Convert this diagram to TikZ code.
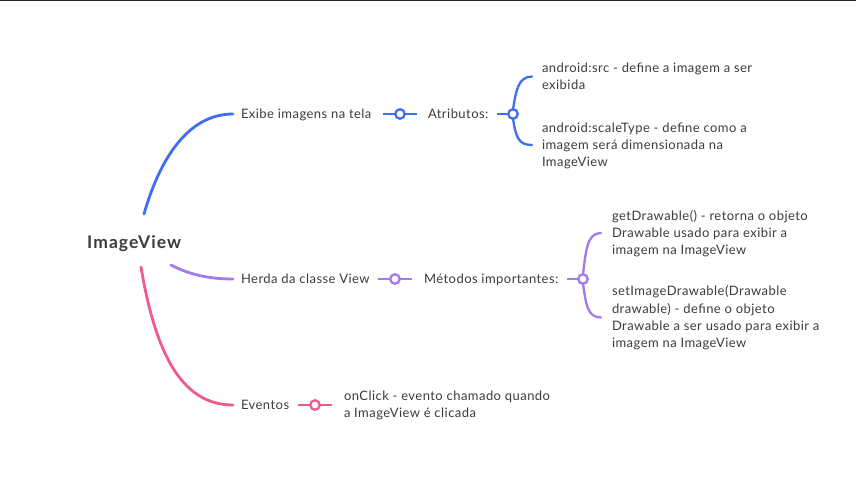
\documentclass[tikz,border=0pt]{standalone}
\usepackage{fontspec}
\setmainfont{Lato}
\newfontfamily\txtfont[LetterSpace=3.5]{Lato}
\newfontfamily\rootfont[LetterSpace=6]{Lato Bold}
\definecolor{cblue}{HTML}{3F6DF5}
\definecolor{cpurp}{HTML}{A07AEE}
\definecolor{cpink}{HTML}{EF5A8F}
\definecolor{ctext}{HTML}{3C3C3C}
\newcommand\ms{\rule[-4.35pt]{0pt}{17.3pt}}
\begin{document}
\begin{tikzpicture}[x=1pt,y=-1pt,
  txt/.style={anchor=west,inner sep=0pt,outer sep=0pt,align=left,text=ctext,
    font=\txtfont\fontsize{13}{17.3}\selectfont},
  dot/.style={circle,draw=#1,fill=white,line width=2.3pt,minimum size=9.5pt,inner sep=0pt,outer sep=0pt},
  main/.style={line width=2.8pt,line cap=round},
  lnk/.style={line width=2.3pt}]
\useasboundingbox (0,0) rectangle (856,495);
\fill[white] (0,0) rectangle (856,495);
\fill[black!85] (0,0) rectangle (856,1.5);
% root
\node[anchor=west,inner sep=0pt,text=ctext,font=\rootfont\fontsize{17.5}{20}\selectfont] (root) at (87,242) {\rule[-6.5pt]{0pt}{25pt}ImageView};
\coordinate (r1) at (144,214);
\coordinate (r2) at (171,265);
\coordinate (r3) at (141,267);
% texts
\node[txt] (t1) at (241,114) {\ms Exibe imagens na tela};
\node[txt] (a1) at (428,114) {\ms Atributos:};
\node[txt] (s1) at (542,76.5) {\ms android:src - define a imagem a ser\\\ms exibida};
\node[txt] (s2) at (542,145) {\ms android:scaleType - define como a\\\ms imagem será dimensionada na\\\ms ImageView};
\node[txt] (t2) at (241,279) {\ms Herda da classe View};
\node[txt] (m2) at (424,279) {\ms Métodos importantes:};
\node[txt] (g1) at (612,233) {\ms getDrawable() - retorna o objeto\\\ms Drawable usado para exibir a\\\ms imagem na ImageView};
\node[txt] (g2) at (612,317.5) {\ms setImageDrawable(Drawable\\\ms drawable) - define o objeto\\\ms Drawable a ser usado para exibir a\\\ms imagem na ImageView};
\node[txt] (t3) at (241,405) {\ms Eventos};
\node[txt] (o3) at (344,405) {\ms onClick - evento chamado quando\\\ms a ImageView é clicada};
% main curves
\draw[main,cblue] (r1) .. controls (158,165) and (185,114) .. ([xshift=-8pt]t1.west);
\draw[main,cpurp] (r2) .. controls (190,275) and (210,279) .. ([xshift=-8pt]t2.west);
\draw[main,cpink] (r3) .. controls (155,350) and (180,405) .. ([xshift=-8pt]t3.west);
% junctions
\node[dot=cblue] (c1) at (400,114) {};
\node[dot=cblue] (b1) at (513,114) {};
\node[dot=cpurp] (c2) at (395,279) {};
\node[dot=cpurp] (b2) at (583,279) {};
\node[dot=cpink] (c3) at (315,405) {};
\draw[lnk,cblue] (c1.west) -- ++(-12,0);
\draw[lnk,cblue] (c1.east) -- ++(12,0);
\draw[lnk,cblue] (b1.west) -- ++(-11,0);
\draw[lnk,cblue,line cap=round] (b1.north) .. controls +(3,-18) and +(-14,0) .. ([xshift=-10pt]s1.west);
\draw[lnk,cblue,line cap=round] (b1.south) .. controls +(3,18) and +(-14,0) .. ([xshift=-10pt]s2.west);
\draw[lnk,cpurp] (c2.west) -- ++(-12,0);
\draw[lnk,cpurp] (c2.east) -- ++(12,0);
\draw[lnk,cpurp] (b2.west) -- ++(-11,0);
\draw[lnk,cpurp,line cap=round] (b2.north) .. controls +(3,-24) and +(-14,0) .. ([xshift=-11pt]g1.west);
\draw[lnk,cpurp,line cap=round] (b2.south) .. controls +(3,20) and +(-14,0) .. ([xshift=-11pt]g2.west);
\draw[lnk,cpink] (c3.west) -- ++(-12,0);
\draw[lnk,cpink] (c3.east) -- ++(12,0);
\end{tikzpicture}
\end{document}
